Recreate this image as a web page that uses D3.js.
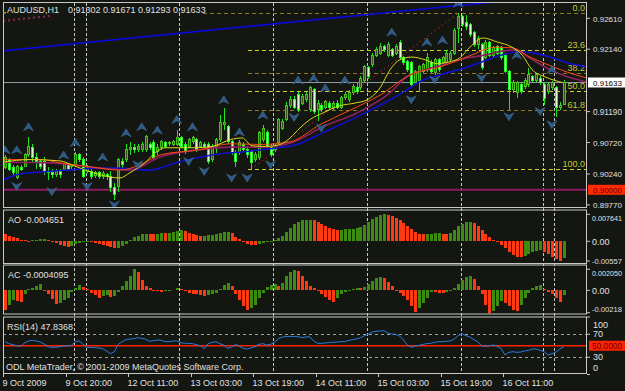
<!DOCTYPE html>
<meta charset="utf-8">
<body style="margin:0; background:#131611;">
<script src="https://d3js.org/d3.v7.min.js"></script>
<svg id="chart" width="625" height="391"></svg>
<script>
// AUDUSD H1, 9 Oct 2009 04:00 -> 16 Oct, one entry per bar
var opens = [
  .9034,.9046,.9034,.9018,.9034,.9035,.9053,.9064,.9049,.9043,
  .9043,.9028,.9026,.9023,.9028,.9031,.9038,.9035,.9037,.9053,
  .9046,.9028,.9028,.9021,.9026,.9020,.9023,.9020,.9003,.9005,
  .9043,.9046,.9061,.9064,.9061,.9061,.9061,.9069,.9072,.9058,
  .9064,.9072,.9070,.9069,.9069,.9079,.9069,.9066,.9073,.9076,
  .9066,.9069,.9069,.9046,.9064,.9076,.9099,.9096,.9073,.9056,
  .9056,.9069,.9061,.9058,.9046,.9049,.9076,.9087,.9066,.9061,
  .9072,.9094,.9107,.9129,.9137,.9145,.9132,.9137,.9122,.9152,
  .9122,.9129,.9126,.9132,.9125,.9132,.9126,.9140,.9137,.9148,
  .9155,.9155,.9167,.9186,.9190,.9205,.9208,.9218,.9205,.9213,
  .9208,.9224,.9201,.9195,.9193,.9164,.9167,.9180,.9183,.9193,
  .9178,.9198,.9193,.9193,.9198,.9208,.9246,.9263,.9254,.9251,
  .9239,.9221,.9221,.9202,.9224,.9205,.9218,.9216,.9205,.9180,
  .9152,.9148,.9160,.9157,.9160,.9172,.9167,.9170,.9160,.9149,
  .9155,.9155,.9125,.91302];
var highs = [
  .9053,.9049,.9038,.9037,.9038,.9056,.9081,.9069,.9056,.9046,
  .9050,.9035,.9031,.9031,.9031,.9041,.9041,.9040,.9058,.9056,
  .9050,.9038,.9031,.9029,.9029,.9028,.9026,.9028,.9011,.9049,
  .9049,.9069,.9073,.9069,.9069,.9072,.9084,.9073,.9076,.9069,
  .9076,.9075,.9075,.9076,.9091,.9082,.9072,.9079,.9082,.9079,
  .9075,.9072,.9072,.9069,.9079,.9114,.9125,.9099,.9076,.9061,
  .9076,.9072,.9066,.9061,.9058,.9090,.9099,.9091,.9069,.9069,
  .9110,.9107,.9134,.9142,.9142,.9149,.9146,.9149,.9158,.9155,
  .9137,.9132,.9137,.9135,.9135,.9137,.9143,.9149,.9152,.9161,
  .9164,.9173,.9190,.9189,.9208,.9218,.9224,.9221,.9225,.9216,
  .9222,.9228,.9204,.9198,.9196,.9183,.9190,.9193,.9208,.9198,
  .9201,.9201,.9204,.9213,.9211,.9246,.9269,.9266,.9266,.9254,
  .9242,.9234,.9224,.9228,.9227,.9219,.9221,.9219,.9208,.9183,
  .9167,.9166,.9163,.9170,.9186,.9175,.9178,.9173,.9163,.9163,
  .9166,.9158,.9134,.91671];
var lows = [
  .9031,.9028,.9023,.9017,.9028,.9034,.9050,.9041,.9031,.9031,
  .9023,.9015,.9018,.9020,.9018,.9028,.9028,.9032,.9035,.9043,
  .9018,.9025,.9017,.9018,.9017,.9017,.9015,.8997,.8985,.8996,
  .9031,.9043,.9053,.9056,.9058,.9058,.9058,.9061,.9046,.9053,
  .9061,.9063,.9067,.9066,.9066,.9063,.9055,.9063,.9070,.9058,
  .9063,.9063,.9040,.9043,.9056,.9073,.9091,.9070,.9053,.9034,
  .9053,.9058,.9049,.9031,.9043,.9046,.9073,.9063,.9050,.9058,
  .9069,.9091,.9104,.9125,.9123,.9119,.9129,.9134,.9119,.9116,
  .9104,.9119,.9123,.9122,.9122,.9123,.9123,.9137,.9134,.9145,
  .9146,.9152,.9164,.9169,.9187,.9202,.9205,.9210,.9202,.9202,
  .9205,.9198,.9190,.9180,.9157,.9160,.9149,.9177,.9180,.9177,
  .9175,.9180,.9190,.9190,.9195,.9205,.9224,.9248,.9243,.9233,
  .9218,.9215,.9183,.9199,.9202,.9202,.9205,.9198,.9177,.9122,
  .9148,.9140,.9146,.9154,.9157,.9164,.9164,.9160,.9129,.9146,
  .9152,.9111,.9122,.91293];
var closes = [
  .9049,.9031,.9026,.9035,.9031,.9053,.9066,.9049,.9043,.9035,
  .9028,.9026,.9023,.9028,.9023,.9038,.9031,.9037,.9053,.9046,
  .9020,.9034,.9020,.9026,.9020,.9025,.9020,.9003,.8993,.9046,
  .9038,.9061,.9064,.9061,.9066,.9069,.9081,.9064,.9049,.9064,
  .9073,.9066,.9072,.9073,.9079,.9066,.9058,.9076,.9079,.9061,
  .9072,.9066,.9043,.9066,.9076,.9102,.9102,.9073,.9056,.9043,
  .9072,.9061,.9053,.9041,.9053,.9087,.9094,.9066,.9053,.9066,
  .9107,.9104,.9129,.9137,.9126,.9122,.9142,.9145,.9155,.9119,
  .9132,.9122,.9134,.9125,.9132,.9126,.9140,.9145,.9148,.9157,
  .9149,.9170,.9187,.9172,.9205,.9213,.9218,.9213,.9221,.9205,
  .9218,.9201,.9193,.9183,.9160,.9180,.9187,.9190,.9201,.9180,
  .9198,.9183,.9201,.9208,.9208,.9243,.9263,.9251,.9248,.9236,
  .9221,.9231,.9186,.9224,.9205,.9216,.9208,.9201,.9180,.9152,
  .9164,.9163,.9149,.9167,.9175,.9167,.9175,.9163,.9139,.9160,
  .9163,.9125,.9129,.91633];

// Awesome Oscillator
var aoValues = [
  19.7e-4,15.0e-4,12.2e-4,9.3e-4,4.6e-4,2.7e-4,-1.0e-4,2.7e-4,4.6e-4,5.6e-4,
  6.5e-4,4.6e-4,-1.0e-4,-5.8e-4,-10.5e-4,-13.3e-4,-15.2e-4,-12.4e-4,-8.6e-4,-5.8e-4,
  -2.9e-4,-1.0e-4,-2.9e-4,-5.8e-4,-7.6e-4,-10.5e-4,-13.3e-4,-16.1e-4,-19.0e-4,-18.0e-4,
  -12.4e-4,-6.7e-4,4.6e-4,12.2e-4,15.9e-4,19.7e-4,21.6e-4,20.7e-4,19.7e-4,21.6e-4,
  23.5e-4,22.5e-4,24.4e-4,27.2e-4,30.1e-4,31.1e-4,28.2e-4,24.4e-4,20.7e-4,17.8e-4,
  15.0e-4,16.0e-4,16.9e-4,17.8e-4,19.7e-4,22.5e-4,25.4e-4,27.2e-4,23.5e-4,13.1e-4,
  5.6e-4,-1.0e-4,-6.7e-4,-10.5e-4,-11.5e-4,-8.6e-4,-4.8e-4,-2.0e-4,0.8e-4,4.6e-4,
  8.4e-4,15.0e-4,25.4e-4,38.6e-4,48.0e-4,55.5e-4,59.3e-4,60.3e-4,61.2e-4,60.3e-4,
  55.5e-4,49.9e-4,44.2e-4,38.6e-4,34.8e-4,32.0e-4,32.9e-4,33.9e-4,34.8e-4,35.7e-4,
  36.7e-4,39.5e-4,46.1e-4,54.6e-4,63.1e-4,69.7e-4,74.4e-4,76.41e-4,75.3e-4,72.5e-4,
  66.6e-4,59.3e-4,50.8e-4,42.3e-4,34.8e-4,27.2e-4,21.6e-4,19.7e-4,20.7e-4,21.6e-4,
  22.1e-4,22.5e-4,21.6e-4,20.7e-4,23.5e-4,32.0e-4,42.3e-4,49.9e-4,53.6e-4,55.5e-4,
  50.8e-4,44.2e-4,32.9e-4,21.6e-4,12.2e-4,4.6e-4,-2.9e-4,-10.5e-4,-19.9e-4,-31.2e-4,
  -38.8e-4,-43.5e-4,-45.4e-4,-40.6e-4,-35.0e-4,-30.3e-4,-27.4e-4,-25.6e-4,-29.3e-4,-35.0e-4,
  -43.5e-4,-51.0e-4,-55.7e-4,-46.51e-4];

// Accelerator Oscillator
var acValues = [
  -18.8e-4,-13.9e-4,-9.2e-4,-10.6e-4,-11.2e-4,-4.0e-4,1.3e-4,2.6e-4,4.3e-4,5.9e-4,
  -0.7e-4,-3.3e-4,-8.9e-4,-13.2e-4,-12.2e-4,-9.9e-4,-7.3e-4,-1.3e-4,2.6e-4,5.3e-4,
  3.3e-4,1.0e-4,-2.3e-4,-4.6e-4,-7.3e-4,-5.9e-4,-5.0e-4,-6.6e-4,-5.3e-4,-2.0e-4,
  4.3e-4,9.2e-4,14.2e-4,20.5e-4,17.5e-4,9.9e-4,4.3e-4,2.0e-4,0.0,-0.7e-4,
  -1.3e-4,-0.7e-4,0.0,0.7e-4,2.6e-4,1.0e-4,-0.7e-4,-2.3e-4,-3.3e-4,-4.0e-4,
  -4.6e-4,-5.3e-4,-5.0e-4,-4.0e-4,-2.3e-4,1.0e-4,5.3e-4,7.6e-4,4.3e-4,-4.0e-4,
  -9.9e-4,-15.5e-4,-18.8e-4,-17.2e-4,-13.9e-4,-7.9e-4,-2.3e-4,3.3e-4,5.3e-4,5.9e-4,
  4.6e-4,7.6e-4,14.2e-4,17.5e-4,20.0e-4,18.5e-4,14.2e-4,9.2e-4,4.3e-4,2.0e-4,
  -0.7e-4,-3.3e-4,-6.6e-4,-9.9e-4,-11.2e-4,-7.3e-4,-4.0e-4,-1.3e-4,0.0,1.3e-4,
  2.6e-4,2.0e-4,3.3e-4,6.6e-4,9.2e-4,11.9e-4,13.2e-4,11.9e-4,8.6e-4,4.3e-4,
  0.0,-2.3e-4,-5.6e-4,-9.9e-4,-15.5e-4,-21.1e-4,-17.2e-4,-12.2e-4,-7.3e-4,-1.3e-4,
  -2.0e-4,-2.6e-4,-3.0e-4,-2.0e-4,0.0,2.6e-4,6.6e-4,9.9e-4,13.2e-4,14.2e-4,
  10.9e-4,4.3e-4,-4.0e-4,-13.9e-4,-21.8e-4,-19.8e-4,-15.5e-4,-10.6e-4,-12.2e-4,-15.5e-4,
  -18.8e-4,-20.5e-4,-13.9e-4,-7.3e-4,-2.3e-4,2.0e-4,4.3e-4,5.0e-4,1.0e-4,-1.3e-4,
  -4.0e-4,-7.3e-4,-11.2e-4,-4.095e-4];

// RSI(14)
var rsiValues = [
  57.1,53.6,51.9,50.1,49.0,54.8,58.3,59.4,58.3,56.5,
  53.0,48.4,47.2,47.2,48.4,49.6,49.6,50.7,57.1,58.3,
  52.5,47.2,47.2,46.7,46.1,44.9,40.9,36.2,39.7,52.5,
  57.1,60.6,61.7,62.3,64.1,62.9,61.2,57.7,58.8,60.0,
  59.4,57.1,57.1,58.3,58.3,55.4,54.2,54.2,53.6,51.9,
  50.1,44.9,53.6,55.9,57.1,53.6,51.3,45.5,47.8,52.5,
  49.0,45.5,44.3,46.1,48.4,52.5,53.6,51.3,52.5,55.9,
  62.3,65.2,65.8,66.4,65.8,65.8,64.1,65.2,65.8,58.3,
  54.2,54.2,54.8,55.9,55.9,56.5,57.1,57.1,59.4,60.6,
  61.7,64.1,67.5,69.9,73.9,75.1,75.7,76.2,72.2,70.4,
  69.9,67.0,60.0,51.3,47.2,49.6,50.7,52.5,53.6,54.2,
  55.9,57.1,57.1,57.7,58.3,61.7,67.5,71.0,67.5,65.2,
  60.6,57.1,49.6,49.0,50.1,51.3,49.0,45.5,33.9,38.6,
  39.7,38.6,39.1,40.9,42.0,44.3,44.3,42.0,39.7,33.9,
  36.2,38.6,44.3,47.8368];

// moving averages, [bar, price]
var maYellow = [[-0.5,.9042],[6.4,.9046],[14.1,.9044],[17.9,.9036],[24.3,.9023],[29.4,.9018],[32,.9026],
  [35.8,.9041],[38.4,.9056],[41,.9064],[44.8,.9064],[48.6,.9064],[53,.9066],[58.1,.9077],[60.7,.9079],
  [63.2,.9067],[66.6,.9066],[70.4,.9069],[73,.9079],[75.5,.9094],[78.1,.9107],[81.4,.9117],[85.8,.9128],
  [89.6,.9132],[92.7,.9137],[96,.9155],[98.6,.9183],[101.1,.9198],[104.2,.9202],[107.5,.9198],[110.6,.9192],
  [113.9,.9195],[116.5,.9201],[119,.9217],[122.4,.9231],[126,.9225],[129.8,.9217],[132.4,.9205],
  [134.9,.9183],[138.2,.9172],[142.8,.9163]];
var maOrange = [[-0.5,.9046],[9,.9046],[14.1,.9041],[21.8,.9035],[29.4,.9030],[34.6,.9038],[39.7,.9053],
  [49.9,.9061],[57.6,.9070],[65.3,.9069],[73,.9073],[80.6,.9099],[88.3,.9121],[96,.9144],[103.7,.9175],
  [111.4,.9187],[119,.9204],[125.4,.9217],[129.8,.9216],[134.4,.9202],[139.5,.9189],[146,.9175],[149,.9170]];
var maMaroon = [[-0.5,.9042],[11.5,.9041],[24.3,.9033],[32,.9030],[39.7,.9050],[49.9,.9061],[57.6,.9065],
  [65.3,.9065],[73,.9071],[81.4,.9096],[90.1,.9117],[98.6,.9148],[102.9,.9172],[107,.9182],[111.4,.9189],
  [118.5,.9201],[122.9,.9205],[127.2,.9211],[130.6,.9213],[133.9,.9202],[138.2,.9187],[142.6,.9175],[149,.9164]];
var maBlue = [[-0.5,.9015],[3.8,.9024],[9,.9027],[15.9,.9030],[24.3,.9033],[28.7,.9033],[37.1,.9030],
  [44.3,.9042],[53,.9053],[61.4,.9058],[69.9,.9064],[74.2,.9068],[81.4,.9087],[90.1,.9111],[98.6,.9137],
  [102.9,.9152],[107,.9167],[111.4,.9175],[118.5,.9187],[127.2,.9205],[131.3,.9210],[135.7,.9208],
  [140,.9201],[144.1,.9193],[149,.9187]];

// fractals, [bar, price of arrow]
var fractalsUp = [[0,.9061],[3,.9061],[6,.9096],[15,.9053],[18,.9072],[25,.9050],[31,.9087],[35,.9096],
  [39,.9091],[44,.9107],[48,.9096],[56,.9137],[60,.9088],[66,.9114],[75,.9167],[79,.9170],[82,.9155],
  [87,.9167],[99,.9240],[108,.9225],[112,.9228],[116,.9284],[131,.9205],[140,.9183]];
var fractalsDown = [[3,.9005],[12,.8997],[21,.9005],[28,.8977],[34,.9038],[47,.9043],[51,.9028],
  [58,.9018],[62,.9018],[68,.9038],[74,.9110],[81,.9094],[104,.9137],[110,.9167],[122,.9170],
  [129,.9111],[137,.9119],[140,.9099]];

// drawn objects
var fibLevels = [0, 23.6, 38.2, 50, 61.8, 100];
var fibStart = [50.7, 62.2, 62.2, 62.2, 62.2, 62.2];
var fibHigh = [116, 0.92686], fibLow = [63, 0.90316];
var trendBlue = [[-1.3, .9211], [125.4, .9286]];
var trendDotted = [[-0.5, .9257], [12, .9265]];
var levelPrice = 0.90000, bidPrice = 0.91633;
var separatorBars = [17.6, 20.66, 44.65, 68.55, 92.6, 116.67, 137.7, 140.55];

var priceTicks = [0.92610, 0.92140, 0.91190, 0.90720, 0.90240, 0.89770];
var aoTicks = [0.007641, 0, -0.00557], aoTickText = ["0.007641", "0.00", "-0.00557"];
var acTicks = [0.00205, 0, -0.00218], acTickText = ["0.002050", "0.00", "-0.00218"];
var rsiTicks = [100, 70, 30, 0];
var timeBars = [0, 16, 32, 48, 64, 80, 96, 112, 128];
var timeLabels = ["9 Oct 2009", "9 Oct 20:00", "12 Oct 11:00", "13 Oct 03:00", "13 Oct 19:00",
  "14 Oct 11:00", "15 Oct 03:00", "15 Oct 19:00", "16 Oct 11:00"];

var svg = d3.select("#chart");
var font = "Liberation Sans, Arial, sans-serif";
var txt = "#e0e0e0";
svg.append("rect").attr("width", 625).attr("height", 391).attr("fill", "#131611");

var L = 3, R = 587;
var panes = [
  {name: "main", top: 2.5, bottom: 207.5},
  {name: "ao", top: 210, bottom: 263.5},
  {name: "ac", top: 265, bottom: 314},
  {name: "rsi", top: 317, bottom: 373.5}
];

var x = d3.scaleLinear().domain([0, 143]).range([5, 563.6]);
var yMain = d3.scaleLinear().domain([0.89770, 0.92610]).range([204.9, 18.3]);
var yAO = d3.scaleLinear().domain([-0.00557, 0.007641]).range([261, 214.3]);
var yAC = d3.scaleLinear().domain([-0.00218, 0.00205]).range([312.7, 269.3]);
var yRSI = d3.scaleLinear().domain([0, 100]).range([374.5, 317]);

var defs = svg.append("defs");
panes.forEach(function(p) {
  defs.append("clipPath").attr("id", "clip-" + p.name).append("rect")
    .attr("x", L).attr("y", p.top).attr("width", R - L).attr("height", p.bottom - p.top);
});

// vertical separators through all panes
svg.append("g").selectAll("line").data(separatorBars).enter().append("line")
  .attr("x1", function(d) { return Math.round(x(d)) + 0.5; })
  .attr("x2", function(d) { return Math.round(x(d)) + 0.5; })
  .attr("y1", 3).attr("y2", 373)
  .attr("stroke", "#c8c8c8").attr("stroke-dasharray", "3,2");

// ---------- main pane
var main = svg.append("g").attr("clip-path", "url(#clip-main)");

function hline(g, y, color, w, dash, x1) {
  g.append("line").attr("x1", x1 || L).attr("x2", R)
    .attr("y1", y).attr("y2", y).attr("stroke", color).attr("stroke-width", w)
    .attr("stroke-dasharray", dash || null);
}
hline(main, Math.round(yMain(bidPrice)) + 0.5, "#8e9ca6", 1);
hline(main, yMain(levelPrice), "#8b1c62", 2);

var fibRange = fibHigh[1] - fibLow[1];
fibLevels.forEach(function(lv, k) {
  var py = Math.round(yMain(fibHigh[1] - lv / 100 * fibRange)) + 0.5;
  var col = k % 2 ? "#d4d424" : "#8e7c1e";
  hline(main, py, col, 1, "4,3", x(fibStart[k]));
  main.append("text").attr("x", 585).attr("y", py - 2.5).attr("text-anchor", "end")
    .attr("font-family", font).attr("font-size", 9).attr("fill", "#c8c83a")
    .text(lv.toFixed(1));
});

var lineMain = d3.line().x(function(d) { return x(d[0]); }).y(function(d) { return yMain(d[1]); });
main.append("path").attr("d", lineMain([fibLow, fibHigh])).attr("fill", "none")
  .attr("stroke", "#cc2424").attr("stroke-dasharray", "1.5,3");
main.append("path").attr("d", lineMain(trendDotted)).attr("fill", "none")
  .attr("stroke", "#8b2a5a").attr("stroke-width", 2).attr("stroke-dasharray", "2,3");

// candles
var bars = d3.range(opens.length);
var cg = main.append("g").attr("shape-rendering", "crispEdges");
cg.selectAll("line").data(bars).enter().append("line")
  .attr("x1", function(i) { return Math.round(x(i)) + 0.5; })
  .attr("x2", function(i) { return Math.round(x(i)) + 0.5; })
  .attr("y1", function(i) { return yMain(highs[i]); })
  .attr("y2", function(i) { return yMain(lows[i]); })
  .attr("stroke", "#1ee61e");
cg.selectAll("rect").data(bars).enter().append("rect")
  .attr("x", function(i) { return Math.round(x(i)) - 0.5; })
  .attr("width", 2)
  .attr("y", function(i) { return yMain(Math.max(opens[i], closes[i])); })
  .attr("height", function(i) { return Math.max(1, Math.abs(yMain(opens[i]) - yMain(closes[i]))); })
  .attr("fill", function(i) { return closes[i] >= opens[i] ? "#2f5a10" : "#dcffd2"; })
  .attr("stroke", function(i) { return closes[i] >= opens[i] ? "#48c01c" : "#22ff22"; });

// moving averages
var curve = d3.line().curve(d3.curveMonotoneX)
  .x(function(d) { return x(d[0]); }).y(function(d) { return yMain(d[1]); });
[[maBlue, "#1010d0", 1.6], [maMaroon, "#8e2060", 1.6], [maOrange, "#ff4a14", 1], [maYellow, "#d8d81c", 1]]
  .forEach(function(m) {
    main.append("path").attr("d", curve(m[0])).attr("fill", "none")
      .attr("stroke", m[1]).attr("stroke-width", m[2]);
  });
main.append("path").attr("d", lineMain(trendBlue)).attr("fill", "none")
  .attr("stroke", "#0a0ad2").attr("stroke-width", 1.6);

// fractal arrows
var arrow = "M0,-4 L5,4 L0,1.5 L-5,4 Z";
main.selectAll(".fu").data(fractalsUp).enter().append("path").attr("d", arrow)
  .attr("transform", function(d) { return "translate(" + x(d[0]) + "," + yMain(d[1]) + ")"; })
  .attr("fill", "#2e5a86").attr("stroke", "#45729e").attr("stroke-width", 0.5);
main.selectAll(".fd").data(fractalsDown).enter().append("path").attr("d", arrow)
  .attr("transform", function(d) { return "translate(" + x(d[0]) + "," + yMain(d[1]) + ") rotate(180)"; })
  .attr("fill", "#2e5a86").attr("stroke", "#45729e").attr("stroke-width", 0.5);

// ---------- oscillators
function histogram(name, values, y) {
  var g = svg.append("g").attr("clip-path", "url(#clip-" + name + ")").attr("shape-rendering", "crispEdges");
  g.selectAll("rect").data(values).enter().append("rect")
    .attr("x", function(d, i) { return Math.round(x(i)) - 1; })
    .attr("width", 3)
    .attr("y", function(d) { return Math.min(y(d), y(0)); })
    .attr("height", function(d) { return Math.max(0.5, Math.abs(y(d) - y(0))); })
    .attr("fill", function(d, i) { return i > 0 && d > values[i - 1] ? "#3c8c12" : "#ff3a12"; });
}
histogram("ao", aoValues, yAO);
histogram("ac", acValues, yAC);

var rsiG = svg.append("g").attr("clip-path", "url(#clip-rsi)");
[70, 30].forEach(function(v) { hline(rsiG, Math.round(yRSI(v)) + 0.5, "#a0a0a0", 1, "3,3"); });
hline(rsiG, yRSI(50), "#ff2200", 1.5);
rsiG.append("path").datum(rsiValues)
  .attr("d", d3.line().x(function(d, i) { return x(i); }).y(function(d) { return yRSI(d); }))
  .attr("fill", "none").attr("stroke", "#2a7ee0").attr("stroke-width", 1);

// pane borders
panes.forEach(function(p) {
  svg.append("rect").attr("x", L + 0.5).attr("y", p.top).attr("width", R - L - 1)
    .attr("height", p.bottom - p.top).attr("fill", "none").attr("stroke", "#c8c8c8");
});

// ---------- texts
function label(xp, yp, s, color, anchor) {
  return svg.append("text").attr("x", xp).attr("y", yp).attr("font-family", font)
    .attr("font-size", 9).attr("fill", color || txt).attr("text-anchor", anchor || "start").text(s);
}
// right-hand labels: shrink the font when the text would run past the window edge
function axisLabel(xp, yp, s, color) {
  var t = label(xp, yp, s, color);
  var w = t.node().getBBox().width;
  var room = 622 - xp;
  if (w > room) t.attr("font-size", (9 * room / w).toFixed(2));
  return t;
}
svg.append("rect").attr("x", 3).attr("y", 12).attr("width", 3).attr("height", 1.5).attr("fill", "#b4a020");
label(7, 13.3, "AUDUSD,H1");
label(68, 13.3, opens[143].toFixed(5) + " " + highs[143].toFixed(5) + " " +
  lows[143].toFixed(5) + " " + closes[143].toFixed(5));
label(8, 223.3, "AO " + aoValues[143].toFixed(6));
label(8, 278.3, "AC " + acValues[143].toFixed(7));
label(7, 330, "RSI(14) " + rsiValues[143].toFixed(4));
label(6, 370, "ODL MetaTrader, \u00a9 2001-2009 MetaQuotes Software Corp.");

function tick(yp) {
  svg.append("line").attr("x1", R).attr("x2", R + 3).attr("y1", yp).attr("y2", yp).attr("stroke", "#c8c8c8");
}
priceTicks.forEach(function(v) { var yp = yMain(v); tick(yp); axisLabel(593, yp + 3.2, v.toFixed(5)); });

svg.append("rect").attr("x", 588).attr("y", yMain(bidPrice) - 5).attr("width", 37).attr("height", 10).attr("fill", "#ffffff");
axisLabel(593, yMain(bidPrice) + 3.2, bidPrice.toFixed(5), "#000000");
svg.append("rect").attr("x", 588).attr("y", yMain(levelPrice) - 5).attr("width", 37).attr("height", 10).attr("fill", "#ff2a00");
axisLabel(593, yMain(levelPrice) + 3.2, levelPrice.toFixed(5), "#6a0000");

aoTicks.forEach(function(v, k) {
  var yp = Math.max(panes[1].top + 7.5, Math.min(panes[1].bottom + 2.2, yAO(v)));
  tick(yAO(v)); axisLabel(592, yp + 3.2, aoTickText[k]);
});
acTicks.forEach(function(v, k) {
  var yp = Math.max(panes[2].top + 7.7, Math.min(panes[2].bottom - 5.7, yAC(v)));
  tick(yAC(v)); axisLabel(592, yp + 3.2, acTickText[k]);
});
rsiTicks.forEach(function(v) {
  var yp = Math.max(panes[3].top + 7.3, Math.min(panes[3].bottom - 6.2, yRSI(v)));
  tick(yRSI(v)); axisLabel(593, yp + 3.2, String(v));
});
svg.append("rect").attr("x", 589).attr("y", yRSI(50) - 5).attr("width", 36).attr("height", 10).attr("fill", "#ff2200");
axisLabel(592, yRSI(50) + 3.2, (50).toFixed(4), "#700000");

// time axis
timeBars.forEach(function(b, k) {
  var tx = Math.round(x(b) - 1.8) + 0.5;
  svg.append("line").attr("x1", tx).attr("x2", tx).attr("y1", 373.5).attr("y2", 377).attr("stroke", "#c8c8c8");
  label(tx - 1, 385.7, timeLabels[k]);
});
</script>
</body>
